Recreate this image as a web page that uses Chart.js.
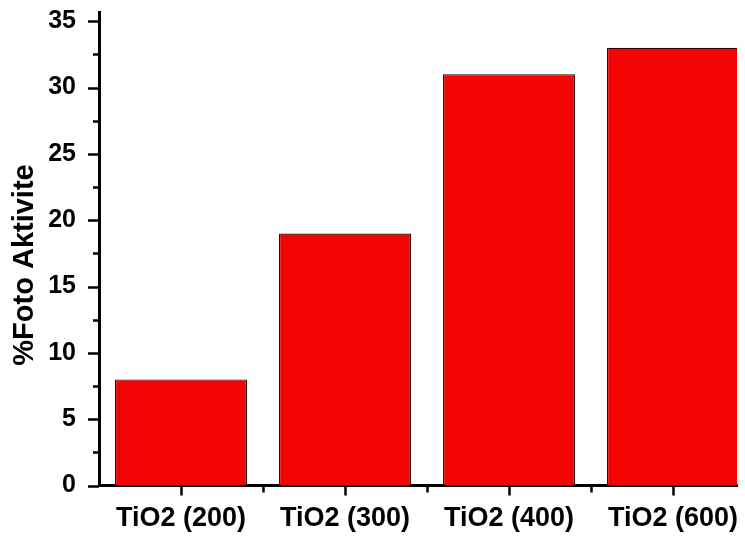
<!DOCTYPE html>
<html>
<head>
<meta charset="utf-8">
<script src="https://cdn.jsdelivr.net/npm/chart.js@4/dist/chart.umd.min.js"></script>
<style>
  html, body { margin: 0; padding: 0; background: #ffffff; overflow: hidden; }
  canvas { display: block; }
</style>
</head>
<body>
<canvas id="chart" width="745" height="538"></canvas>
<script>
// Photoactivity of TiO2 calcined at different temperatures
const categories = ['TiO2 (200)', 'TiO2 (300)', 'TiO2 (400)', 'TiO2 (600)'];
const photoActivity = [8, 19, 31, 33];
const yTickValues = [0, 5, 10, 15, 20, 25, 30, 35];
const yTitle = '%Foto Aktivite';

const FONT = '"Liberation Sans", Arial, sans-serif';

// categories sit at x = 1..n on a linear axis so minor ticks can go between them
const points = photoActivity.map((v, i) => ({ x: i + 1, y: v }));

// hand-drawn tick marks (major + minor) pointing outwards, Origin style
const tickMarks = {
  id: 'tickMarks',
  afterDraw(chart) {
    const { ctx, scales: { x, y } } = chart;
    ctx.save();
    ctx.strokeStyle = '#000';
    ctx.lineWidth = 2.5;
    ctx.lineCap = 'butt';
    const axX = x.left;    // y axis line position
    const axY = y.bottom;  // x axis line position
    // y axis: major every 5, minor halfway
    for (let v = 0; v <= 35; v += 2.5) {
      const py = Math.round(y.getPixelForValue(v)) + 0.5;
      const len = (v % 5 === 0) ? 11 : 6;
      ctx.beginPath();
      ctx.moveTo(axX, py);
      ctx.lineTo(axX - len, py);
      ctx.stroke();
    }
    // x axis: major at category centres, minor between them
    for (let v = 1; v <= categories.length; v += 0.5) {
      const px = Math.round(x.getPixelForValue(v)) + 0.5;
      if (px > x.right) continue;
      const len = Number.isInteger(v) ? 10 : 7;
      ctx.beginPath();
      ctx.moveTo(px, axY);
      ctx.lineTo(px, axY + len);
      ctx.stroke();
    }
    // rotated y axis title
    ctx.fillStyle = '#000';
    ctx.font = 'bold 29px ' + FONT;
    ctx.textAlign = 'center';
    ctx.textBaseline = 'middle';
    ctx.translate(25, 265);
    ctx.rotate(-Math.PI / 2);
    ctx.fillText(yTitle, 0, 0);
    ctx.restore();
  }
};

new Chart(document.getElementById('chart'), {
  type: 'bar',
  data: {
    datasets: [{
      data: points,
      backgroundColor: '#f40303',
      borderColor: '#300404',
      borderWidth: 1.2,
      barPercentage: 0.805,
      categoryPercentage: 1.0
    }]
  },
  options: {
    responsive: false,
    animation: false,
    events: [],
    layout: { padding: { left: 0, top: 12, right: 8, bottom: 0 } },
    plugins: {
      legend: { display: false },
      tooltip: { enabled: false },
      title: { display: false }
    },
    scales: {
      x: {
        type: 'linear',
        min: 0.5,
        max: 4.39,
        offset: false,
        grid: { display: false, offset: false },
        border: { display: true, color: '#000', width: 3 },
        afterBuildTicks: (scale) => {
          scale.ticks = categories.map((_, i) => ({ value: i + 1 }));
        },
        afterFit: (scale) => {
          scale.height = 52.5;
          scale.paddingLeft = 0;
          scale.paddingRight = 0;
        },
        ticks: {
          autoSkip: false,
          maxRotation: 0,
          padding: 9,
          color: '#000',
          font: { family: FONT, size: 27, weight: 'bold' },
          callback: (value) => categories[Math.round(value) - 1]
        }
      },
      y: {
        type: 'linear',
        min: 0,
        max: 35.7,
        grid: { display: false },
        border: { display: true, color: '#000', width: 3 },
        afterBuildTicks: (scale) => {
          scale.ticks = yTickValues.map(v => ({ value: v }));
        },
        afterFit: (scale) => {
          scale.width = 99;
          scale.paddingTop = 0;
          scale.paddingBottom = 0;
        },
        ticks: {
          padding: 15,
          color: '#000',
          font: { family: FONT, size: 25, weight: 'bold' }
        }
      }
    }
  },
  plugins: [tickMarks]
});
</script>
</body>
</html>
